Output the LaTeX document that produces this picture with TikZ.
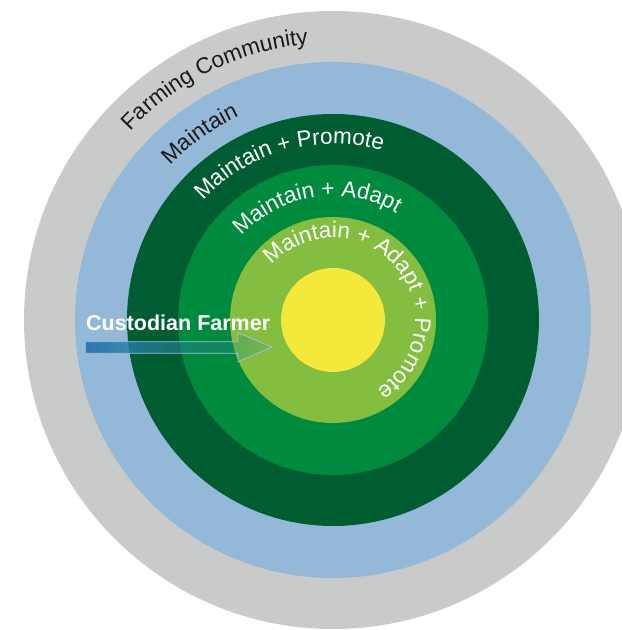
\documentclass[tikz,border=0pt]{standalone}
\usepackage{fontspec}
\newfontfamily\arialf{Liberation Sans}
\usetikzlibrary{decorations.text,fadings}
\definecolor{cgray}{HTML}{C9CACA}
\definecolor{cblue}{HTML}{94B8D7}
\definecolor{cdark}{HTML}{005D32}
\definecolor{cmid}{HTML}{008A3E}
\definecolor{clight}{HTML}{84BE41}
\definecolor{cyel}{HTML}{F4E93A}
\definecolor{arrblue}{HTML}{2B77B3}
\definecolor{arrteal}{HTML}{1E8A78}
\definecolor{arrline}{HTML}{A3BEDC}
\definecolor{txtdark}{HTML}{1A1A1A}
\tikzfading[name=arrfade, left color=transparent!0, right color=transparent!85]
\tikzset{
  ring/.style={fill=#1, draw=none},
  arclabel/.style={decorate, decoration={text along path, text align={left indent=0pt}, text={#1}}}
}
\newcommand{\darkfmt}{\arialf\fontsize{22.5}{22.5}\selectfont\color{txtdark}}
\newcommand{\whitefmt}{\arialf\fontsize{22.5}{22.5}\selectfont\color{white}}
\begin{document}
\begin{tikzpicture}[x=1pt,y=1pt]
\useasboundingbox (0,0) rectangle (622,630);
\clip (0,0) rectangle (622,630);
\coordinate (c) at (333,310);
\fill[white] (0,0) rectangle (622,630);
\fill[ring=cgray] (c) circle[radius=309];
\fill[ring=cblue] (c) circle[radius=258];
\fill[ring=cdark] (c) circle[radius=206];
\fill[ring=cmid] (c) circle[radius=155];
\fill[ring=clight] (c) circle[radius=103];
\node[circle, fill=cyel, minimum size=104pt, inner sep=0pt] (core) at (c) {};
% curved labels
\path[arclabel={|\darkfmt|Farming Community}] (c) ++(137:277) arc[start angle=137, end angle=-150, radius=277];
\path[arclabel={|\darkfmt|Maintain}] (c) ++(136.5:224) arc[start angle=136.5, end angle=-150, radius=224];
\path[arclabel={|\whitefmt|Maintain + Promote}] (c) ++(137.5:176) arc[start angle=137.5, end angle=-150, radius=176];
\path[arclabel={|\whitefmt|Maintain + Adapt}] (c) ++(137.5:124) arc[start angle=137.5, end angle=-150, radius=124];
\path[arclabel={|\whitefmt|Maintain + Adapt + Promote}] (c) ++(138:82) arc[start angle=138, end angle=-170, radius=82];
% arrow
\coordinate (a1) at (86,288.3);
\coordinate (a2) at (238,288.3);
\coordinate (a3) at (238,297.3);
\coordinate (tip) at (272,283);
\coordinate (a4) at (238,268.3);
\coordinate (a5) at (238,276.7);
\coordinate (a6) at (86,276.7);
\path[left color=arrblue, right color=arrteal, path fading=arrfade] (a1) -- (a2) -- (a3) -- (tip) -- (a4) -- (a5) -- (a6) -- cycle;
\draw[arrline, line width=0.8pt, line join=miter] (a1) -- (a2) -- (a3) -- (tip) -- (a4) -- (a5) -- (a6);
\node[anchor=base west, inner sep=0pt, text=white, font=\arialf\bfseries\fontsize{21.5}{21.5}\selectfont] (cf) at (86,299.5) {Custodian Farmer};
\end{tikzpicture}
\end{document}
